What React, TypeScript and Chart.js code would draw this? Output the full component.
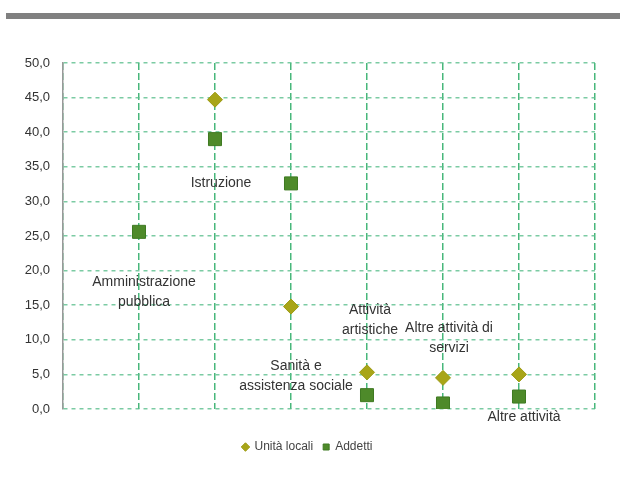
import React, { useEffect, useRef } from "react";
import { Chart, registerables } from "chart.js";

Chart.register(...registerables);

// ---- data ----
const categories = [
  "Amministrazione\npubblica",
  "Istruzione",
  "Sanità e\nassistenza sociale",
  "Attività\nartistiche",
  "Altre attività di\nservizi",
  "Altre attività",
];
const unitaLocali: (number | null)[] = [null, 44.7, 14.8, 5.3, 4.5, 5.0];
const addetti: number[] = [25.6, 39.0, 32.6, 2.0, 0.8, 1.8];
const seriesNames = ["Unità locali", "Addetti"];
const yTicks = { min: 0, max: 50, step: 5 };

// ---- style: label offsets (px) relative to the Addetti point ----
const labelOffsets: { dx: number; dy: number }[] = [
  { dx: 5, dy: 50 },
  { dx: 6, dy: 44 },
  { dx: 5, dy: 183 },
  { dx: 3, dy: -85 },
  { dx: 6, dy: -75 },
  { dx: 5, dy: 21 },
];

const FONT = "'Liberation Sans', Arial, sans-serif";

const labelPlugin = {
  id: "catLabels",
  afterDatasetsDraw(chart: any) {
    const { ctx, scales } = chart;
    const xs = scales.x;
    const ys = scales.y;
    ctx.save();
    ctx.font = `14px ${FONT}`;
    ctx.fillStyle = "#333333";
    ctx.textAlign = "center";
    ctx.textBaseline = "middle";
    categories.forEach((cat, i) => {
      const px = xs.getPixelForValue(i + 1) + labelOffsets[i].dx;
      const py = ys.getPixelForValue(addetti[i]) + labelOffsets[i].dy;
      cat.split("\n").forEach((line, j) => {
        ctx.fillText(line, px, py + j * 20);
      });
    });
    ctx.restore();
  },
};

export default function App() {
  const ref = useRef<HTMLCanvasElement>(null);
  useEffect(() => {
    if (!ref.current) return;
    const chart = new Chart(ref.current, {
      type: "scatter",
      data: {
        datasets: [
          {
            label: seriesNames[0],
            data: unitaLocali
              .map((v, i) => (v === null ? null : { x: i + 1, y: v }))
              .filter((p) => p !== null) as any,
            pointStyle: "rectRot",
            pointRadius: 7.5,
            pointHoverRadius: 7.5,
            backgroundColor: "#A8A518",
            borderColor: "#9C9A12",
            borderWidth: 1,
          },
          {
            label: seriesNames[1],
            data: addetti.map((v, i) => ({ x: i + 1, y: v })),
            pointStyle: "rect",
            pointRadius: 9.2,
            pointHoverRadius: 9.2,
            backgroundColor: "#4E8A2A",
            borderColor: "#3F7A22",
            borderWidth: 1,
          },
        ],
      },
      options: {
        responsive: false,
        animation: false,
        devicePixelRatio: 1,
        layout: { padding: { left: 20, right: 25, top: 63, bottom: 36 } },
        scales: {
          x: {
            type: "linear",
            min: 0,
            max: categories.length + 1,
            ticks: { display: false, stepSize: 1 },
            border: { display: false, dash: [7, 3] },
            grid: {
              color: "rgba(40,170,100,0.85)",
              lineWidth: 1.5,
              drawTicks: false,
            },
            afterFit: (s: any) => {
              s.height = 22;
            },
          },
          y: {
            min: yTicks.min,
            max: yTicks.max,
            ticks: {
              stepSize: yTicks.step,
              padding: 13,
              color: "#333333",
              font: { family: FONT, size: 13 },
              callback: (v: any) => Number(v).toFixed(1).replace(".", ","),
            },
            border: { display: true, color: "#999999", width: 1.5, dash: [4, 4] },
            grid: {
              color: "rgba(90,190,140,0.8)",
              lineWidth: 1.5,
              drawTicks: false,
            },
            afterFit: (s: any) => {
              s.width = 43;
            },
          },
        },
        plugins: {
          legend: {
            position: "bottom",
            labels: {
              usePointStyle: true,
              boxWidth: 6,
              boxHeight: 6,
              padding: 10,
              color: "#444444",
              font: { family: FONT, size: 12 },
            },
          },
          tooltip: { enabled: false },
        },
      },
      plugins: [labelPlugin],
    } as any);
    return () => chart.destroy();
  }, []);

  return (
    <div style={{ position: "absolute", left: 0, top: 0, width: 620, height: 499, background: "#fff" }}>
      <div style={{ position: "absolute", left: 6, top: 13, width: 614, height: 6, background: "#808080" }} />
      <canvas ref={ref} width={620} height={499} style={{ position: "absolute", left: 0, top: 0 }} />
    </div>
  );
}
